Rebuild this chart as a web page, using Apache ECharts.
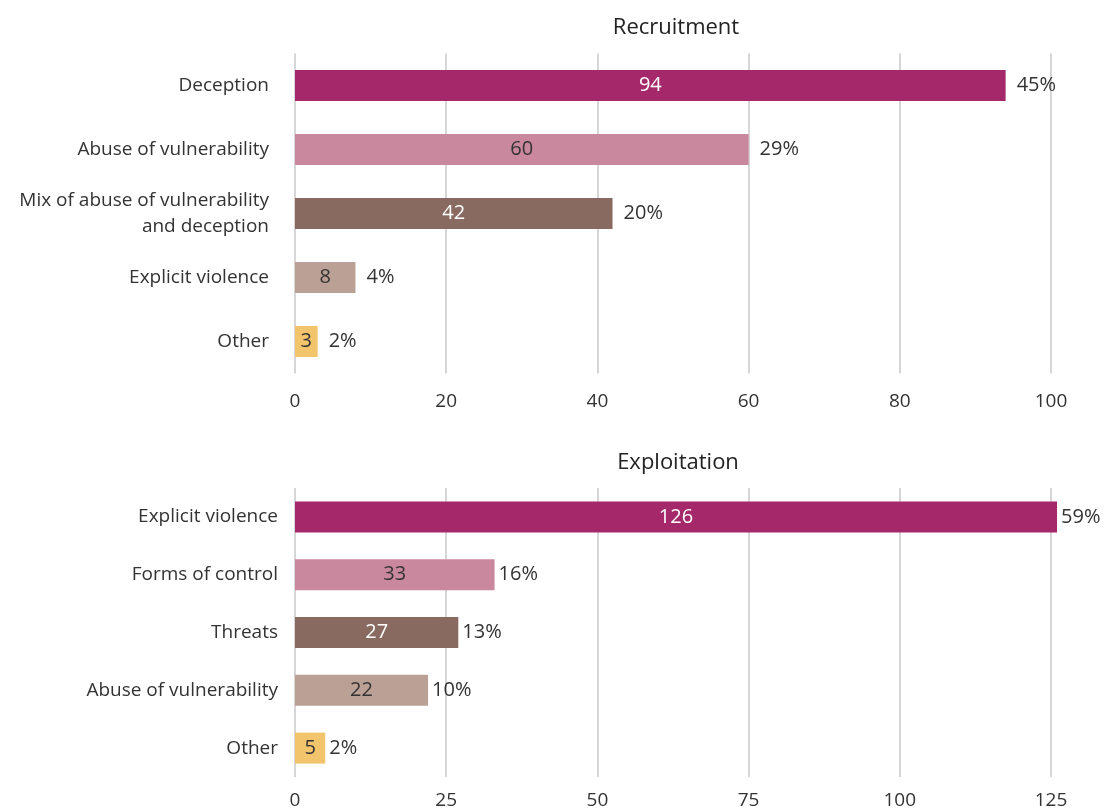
<!DOCTYPE html>
<html>
<head>
<meta charset="utf-8">
<title>Recruitment / Exploitation</title>
<script src="https://cdn.jsdelivr.net/npm/echarts@6/dist/echarts.min.js"></script>
<style>
  html, body { margin: 0; padding: 0; background: #fff; }
</style>
</head>
<body>
<!-- chart container -->
<div id="container" style="width: 1106px; height: 810px"></div>

<script>
// Recruitment panel
const recruitCats = ['Deception', 'Abuse of vulnerability', 'Mix of abuse of vulnerability\nand deception', 'Explicit violence', 'Other']
const recruitValues = [94, 60, 42, 8, 3]
const recruitPct = ['45%', '29%', '20%', '4%', '2%']
const recruitTicks = [0, 20, 40, 60, 80, 100]

// Exploitation panel
const exploitCats = ['Explicit violence', 'Forms of control', 'Threats', 'Abuse of vulnerability', 'Other']
const exploitValues = [126, 33, 27, 22, 5]
const exploitPct = ['59%', '16%', '13%', '10%', '2%']
const exploitTicks = [0, 25, 50, 75, 100, 125]

// bar colours, top to bottom, and the colour of the number inside
const barColors = ['#a5296a', '#ca889f', '#886a60', '#bba096', '#f2c46c']
const innerText = ['#ffffff', '#333333', '#ffffff', '#333333', '#333333']

const FONT = '"Open Sans", "Noto Sans", sans-serif'

var myChart = echarts.init(document.getElementById('container'))

// data items with per-bar colour
function barData(values) {
  return values.map((v, i) => ({
    value: v,
    itemStyle: { color: barColors[i] },
    label: { color: innerText[i] }
  }))
}

function xAxisFor(gridIndex, ticks, margin) {
  return {
    gridIndex: gridIndex,
    type: 'value',
    min: ticks[0],
    max: ticks[ticks.length - 1],
    interval: ticks[1] - ticks[0],
    axisLine: { show: false },
    axisTick: { show: false },
    axisLabel: { color: '#333', fontSize: 19, fontFamily: FONT, margin: margin },
    splitLine: { show: true, lineStyle: { color: '#d6d6d6', width: 2 } }
  }
}

function yAxisFor(gridIndex, cats, margin) {
  return {
    gridIndex: gridIndex,
    type: 'category',
    inverse: true,
    data: cats,
    axisLine: { show: false },
    axisTick: { show: false },
    axisLabel: {
      color: '#333', fontSize: 19, fontFamily: FONT, margin: margin,
      lineHeight: 26, align: 'right'
    }
  }
}

function seriesFor(idx, values, pct, dist) {
  return [
    {
      type: 'bar',
      xAxisIndex: idx,
      yAxisIndex: idx,
      data: barData(values),
      barWidth: 31,
      clip: false,
      label: {
        show: true, position: 'inside', fontSize: 20, fontFamily: FONT
      },
      silent: true
    },
    {
      // invisible copy, only carries the percentage label
      type: 'bar',
      xAxisIndex: idx,
      yAxisIndex: idx,
      data: values,
      barWidth: 31,
      barGap: '-100%',
      clip: false,
      itemStyle: { color: 'rgba(0,0,0,0)' },
      label: {
        show: true, position: 'right', distance: dist,
        color: '#333', fontSize: 20, fontFamily: FONT,
        formatter: (p) => pct[p.dataIndex]
      },
      silent: true
    }
  ]
}

const option = {
  animation: false,
  title: [
    {
      text: 'Recruitment', left: 671, top: 12, textAlign: 'center',
      textStyle: { fontSize: 22, fontWeight: 500, color: '#222', fontFamily: FONT }
    },
    {
      text: 'Exploitation', left: 673, top: 447, textAlign: 'center',
      textStyle: { fontSize: 22, fontWeight: 500, color: '#222', fontFamily: FONT }
    }
  ],
  grid: [
    { left: 295, right: 55, top: 53.5, height: 320 },
    { left: 295, right: 55, top: 488, height: 290 }
  ],
  xAxis: [xAxisFor(0, recruitTicks, 19), xAxisFor(1, exploitTicks, 14)],
  yAxis: [yAxisFor(0, recruitCats, 26), yAxisFor(1, exploitCats, 17)],
  series: [
    ...seriesFor(0, recruitValues, recruitPct, 11),
    ...seriesFor(1, exploitValues, exploitPct, 4)
  ]
}

myChart.setOption(option)
</script>
</body>
</html>
